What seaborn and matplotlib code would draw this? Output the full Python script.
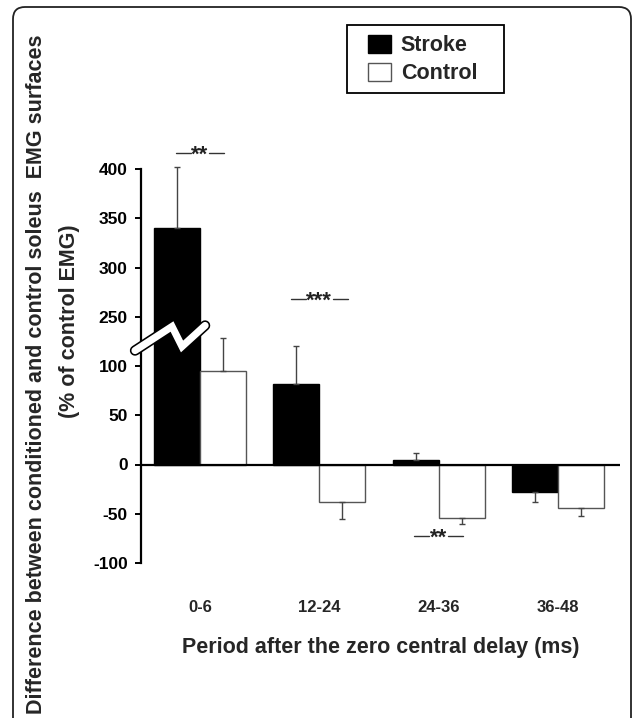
import numpy as np
import pandas as pd
import matplotlib
matplotlib.use("Agg")
import matplotlib.pyplot as plt
import seaborn as sns
from matplotlib.patches import Patch, Rectangle, FancyBboxPatch
from matplotlib.transforms import IdentityTransform
from matplotlib.font_manager import FontProperties

# ---------------- data ----------------
periods = ["0-6", "12-24", "24-36", "36-48"]
groups = ["Stroke", "Control"]
stroke_mean = [340, 82, 5, -28]
stroke_err = [62, 38, 7, 10]
control_mean = [95, -38, -54, -44]
control_err = [33, 17, 6, 8]
ytick_values = [-100, -50, 0, 50, 100, 250, 300, 350, 400]
sig_labels = ["**", "***", "**", ""]
sig_y = [316, 168, -73, None]

# broken axis: values above the break are shifted down by 100
BREAK_SHIFT = 100
BREAK_LOW = 200


def to_axis(v):
    v = np.asarray(v, dtype=float)
    return np.where(v > BREAK_LOW, v - BREAK_SHIFT, v)


sns.set_style("white")
plt.rcParams["font.family"] = ["Liberation Sans", "DejaVu Sans"]
plt.rcParams["font.weight"] = "bold"

df = pd.DataFrame({
    "period": periods * 2,
    "group": ["Stroke"] * 4 + ["Control"] * 4,
    "value": stroke_mean + control_mean,
    "err": stroke_err + control_err,
})
df["shown"] = to_axis(df["value"])

W, H = 633, 718
fig = plt.figure(figsize=(W / 100, H / 100), dpi=100)
ax = fig.add_axes([141 / W, (H - 563) / H, (620 - 141) / W, (563 - 169) / H])

sns.barplot(data=df, x="period", y="shown", hue="group", order=periods,
            hue_order=groups, palette={"Stroke": "black", "Control": "white"},
            width=0.77, errorbar=None, legend=False, ax=ax, zorder=2)

edge = {"Stroke": "black", "Control": "#555555"}
for g, cont in zip(groups, ax.containers):
    sub = df[df["group"] == g].set_index("period").loc[periods]
    for bar, (_, row) in zip(cont, sub.iterrows()):
        bar.set_edgecolor(edge[g])
        bar.set_linewidth(1.0)
        xc = bar.get_x() + bar.get_width() / 2
        top = to_axis(row["value"] + np.sign(row["value"]) * row["err"])
        y0 = row["shown"]
        ax.errorbar([xc], [y0], yerr=[[0], [top - y0]] if top > y0 else [[y0 - top], [0]],
                    fmt="none", ecolor="#444444", elinewidth=1.0, capsize=2.2,
                    capthick=1.0, zorder=3, clip_on=False)

ax.set_ylim(-100, 300)
ax.set_xlim(-0.495, 3.52)
ax.axhline(0, color="black", lw=1.6, zorder=4)

for s in ["top", "right", "bottom"]:
    ax.spines[s].set_visible(False)
ax.spines["left"].set_color("black")
ax.spines["left"].set_linewidth(1.6)
ax.spines["left"].set_zorder(5)

ax.set_yticks(to_axis(ytick_values))
ax.set_yticklabels([str(v) for v in ytick_values])
ax.tick_params(axis="y", direction="out", length=4, width=1.4, pad=5.5,
               labelsize=12.5, colors="black", left=True)
ax.tick_params(axis="x", length=0, pad=27, labelsize=12)
for t in ax.get_xticklabels() + ax.get_yticklabels():
    t.set_fontweight("bold")

ax.set_xlabel("Period after the zero central delay (ms)", fontsize=15.5,
              fontweight="bold", va="center")
ax.xaxis.set_label_coords(0.5, -0.2157)
ax.set_ylabel("Difference between conditioned and control soleus  EMG surfaces",
              fontsize=15.5, fontweight="bold", va="center", ha="center")
ax.yaxis.set_label_coords((37 - 141) / 479, (563 - 374.5) / 394)
ax.text((69 - 141) / 479, (563 - 321.5) / 394, "(% of control EMG)",
        transform=ax.transAxes, rotation=90, ha="center", va="center",
        fontsize=15.5, fontweight="bold")

# significance markers: stars flanked by short lines
PX = 1 / 119.3  # one pixel in x data units
for i, (lab, yy) in enumerate(zip(sig_labels, sig_y)):
    if lab:
        half = len(lab) * 4.2 + 1
        ax.annotate(lab, xy=(i, yy), xytext=(0, -5.6), textcoords="offset points",
                    ha="center", va="baseline", fontsize=16, fontweight="bold",
                    color="#222222", annotation_clip=False)
        for sgn in (-1, 1):
            ax.plot([i + sgn * half * PX, i + sgn * (half + 15) * PX], [yy, yy],
                    color="#333333", lw=1.0, clip_on=False, zorder=3)

# axis break zig-zag
zx = np.array([-0.545, -0.235, -0.151, 0.042])
zy = np.array([115.7, 140.1, 119.8, 141.1])
ax.plot(zx, zy, color="black", lw=7.5, solid_joinstyle="miter",
        clip_on=False, zorder=6)
ax.plot(zx, zy, color="white", lw=5.2, solid_joinstyle="miter",
        clip_on=False, zorder=7)

# legend
handles = [Patch(facecolor="black", edgecolor="black"),
           Patch(facecolor="white", edgecolor="#555555")]
fp = FontProperties(family="Liberation Sans", weight="bold", size=15.5)
fig.legend(handles, groups, loc="upper left",
           bbox_to_anchor=(368 / W, 1 - 35 / H), frameon=False, prop=fp,
           handlelength=1.07, handleheight=0.92, handletextpad=0.45,
           labelspacing=0.3, borderpad=0, borderaxespad=0)
fig.add_artist(Rectangle((347, H - 93), 157, 68, transform=IdentityTransform(),
                         fill=False, ec="black", lw=1.3))

# outer rounded frame
fig.add_artist(FancyBboxPatch((13, -40), 631 - 13, (H - 7) + 40,
                              boxstyle="round,pad=0,rounding_size=12",
                              transform=IdentityTransform(), fill=False,
                              ec="#222222", lw=1.3))

fig.savefig("out.png", dpi=100)
